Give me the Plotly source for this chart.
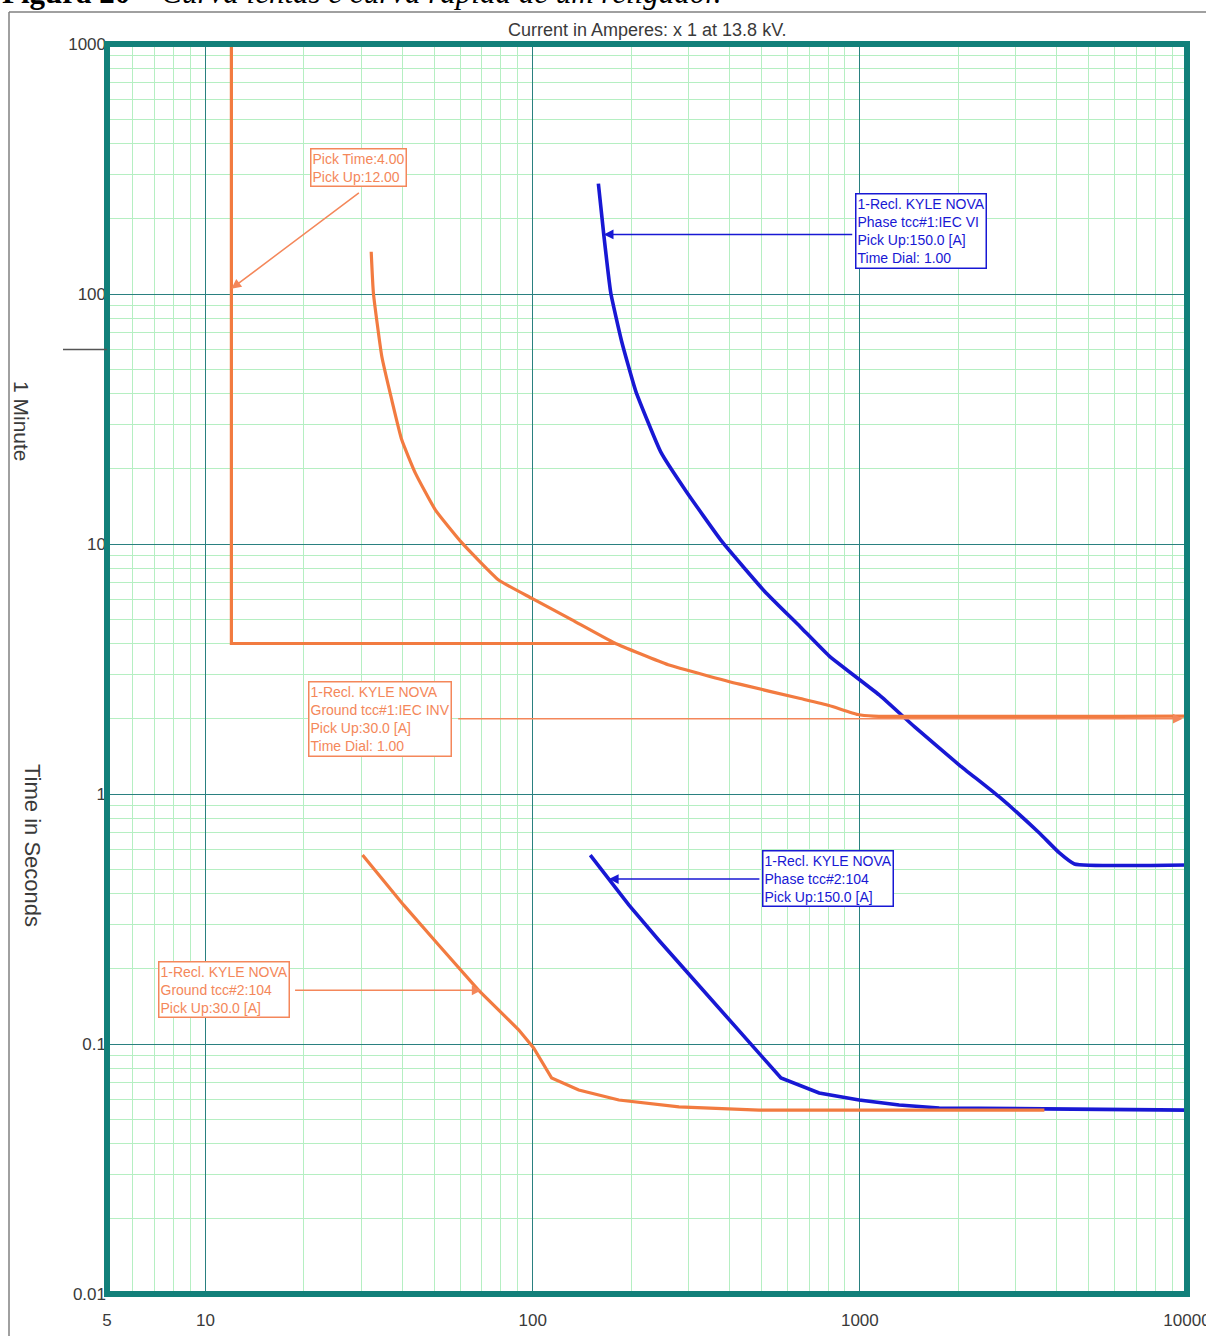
import math
import plotly.graph_objects as go

# ---- Ground tcc#1 : IEC inverse, pick up 30 A, dial 1.00 (slow ground) ----
ground_slow_I = [32.1, 32.6, 34.6, 37.1, 39.8, 43.8, 50.4, 60.8, 78.7, 99.5,
                 131.9, 177.9, 259.5, 429, 658, 805, 985, 1100, 10000]
ground_slow_t = [147.6, 100.9, 56.1, 37.7, 26.1, 19.2, 13.7, 10.1, 7.18, 6.06,
                 4.97, 4.02, 3.29, 2.75, 2.41, 2.26, 2.08, 2.05, 2.05]

# ---- Ground definite-time element: pick up 12 A, pick time 4.00 s ----
ground_dt_I = [12, 12, 178]
ground_dt_t = [1000, 4.0, 4.0]

# ---- Phase tcc#1 : IEC very inverse, pick up 150 A, dial 1.00 (slow phase) ----
phase_slow_I = [158.8, 164.9, 173.3, 187.1, 206.7, 246.5, 294, 378.7, 512, 658,
                805, 1146, 1474, 2014, 2669, 3538, 4074, 4529, 10000]
phase_slow_t = [276.5, 173.3, 100.9, 64.6, 40.8, 23.3, 16.3, 10.24, 6.46, 4.66,
                3.57, 2.49, 1.85, 1.306, 0.973, 0.698, 0.581, 0.525, 0.52]

# ---- Phase tcc#2 : curve 104, pick up 150 A (fast phase) ----
phase_fast_I = [150, 170, 196.7, 243, 322, 427, 574, 751, 995, 1319, 1748, 10000]
phase_fast_t = [0.57, 0.46, 0.36, 0.26, 0.172, 0.114, 0.0731, 0.0637, 0.0597,
                0.057, 0.0555, 0.0544]

# ---- Ground tcc#2 : curve 104, pick up 30 A (fast ground) ----
ground_fast_I = [30.2, 40.3, 51.6, 68.4, 90.6, 100.7, 114.3, 138.3, 183.4, 280,
                 492, 3665]
ground_fast_t = [0.57, 0.36, 0.249, 0.164, 0.114, 0.0964, 0.0731, 0.0655, 0.0597,
                 0.056, 0.0544, 0.0544]

# axis ticks
x_ticks = [5, 10, 100, 1000, 10000]
x_tick_text = ["5", "10", "100", "1000", "10000"]
y_ticks = [0.01, 0.1, 1, 10, 100, 1000]
y_tick_text = ["0.01", "0.1", "1", "10", "100", "1000"]

ORANGE = "#F27B40"
ORANGE_LIGHT = "#F4875A"
BLUE = "#1818D4"
TEAL = "#12807A"
MAJOR_GRID = "#2A8080"
MINOR_GRID = "#B5EFC2"
SANS = "Liberation Sans, Arial, sans-serif"
TEXT_GREY = "#3a3a3a"

x_minor = [m * 10 ** e for e in range(0, 4) for m in range(2, 10) if 5 < m * 10 ** e < 10000]
y_minor = [m * 10.0 ** e for e in range(-2, 3) for m in range(2, 10)]

fig = go.Figure()

line_w = 3.2
fig.add_trace(go.Scatter(x=phase_slow_I, y=phase_slow_t, mode="lines",
                         line=dict(color=BLUE, width=3.6, shape="spline", smoothing=0.4),
                         hoverinfo="skip"))
fig.add_trace(go.Scatter(x=phase_fast_I, y=phase_fast_t, mode="lines",
                         line=dict(color=BLUE, width=3.6), hoverinfo="skip"))
fig.add_trace(go.Scatter(x=ground_dt_I, y=ground_dt_t, mode="lines",
                         line=dict(color=ORANGE, width=line_w), hoverinfo="skip"))
fig.add_trace(go.Scatter(x=ground_slow_I, y=ground_slow_t, mode="lines",
                         line=dict(color=ORANGE, width=line_w, shape="spline", smoothing=0.4),
                         hoverinfo="skip"))
fig.add_trace(go.Scatter(x=ground_fast_I, y=ground_fast_t, mode="lines",
                         line=dict(color=ORANGE, width=line_w), hoverinfo="skip"))

L, R, T, B = 107, 19, 44, 42
W, H = 1206, 1336
PW, PH = W - L - R, H - T - B


def px_x(p):
    return (p - L) / PW


def px_y(p):
    return (H - B - p) / PH


shapes = [
    # heavy frame around the plotting area
    dict(type="rect", xref="paper", yref="paper", x0=0, x1=1, y0=0, y1=1,
         line=dict(color=TEAL, width=6), layer="above"),
    # "1 Minute" marker on the time axis
    dict(type="line", xref="paper", yref="y", x0=px_x(63), x1=0, y0=60, y1=60,
         line=dict(color="#555555", width=1.5)),
    # page border lines
    dict(type="line", xref="paper", yref="paper", x0=px_x(9), x1=px_x(9),
         y0=px_y(12), y1=px_y(1340), line=dict(color="#808080", width=1.5)),
    dict(type="line", xref="paper", yref="paper", x0=px_x(9), x1=px_x(1210),
         y0=px_y(12), y1=px_y(12), line=dict(color="#808080", width=1.5)),
]

annotations = []


def box(text, cx, cy, color):
    annotations.append(dict(
        text=text, xref="paper", yref="paper", x=px_x(cx), y=px_y(cy),
        xanchor="left", yanchor="middle", align="left", showarrow=False,
        font=dict(family=SANS, size=14, color=color),
        bgcolor="white", bordercolor=color, borderwidth=1.5, borderpad=1))


def arrow(tip_I, tip_t, ax, ay, color):
    annotations.append(dict(
        text="", x=math.log10(tip_I), y=math.log10(tip_t), xref="x", yref="y",
        ax=ax, ay=ay, showarrow=True, arrowhead=2, arrowsize=1.3,
        arrowwidth=1.5, arrowcolor=color))


arrow(12, 105, 129, -97, ORANGE_LIGHT)
arrow(164.9, 173, 250, 0, BLUE)
arrow(9700, 2.0, -726, 0, ORANGE_LIGHT)
arrow(171, 0.457, 152, 0, BLUE)
arrow(69.8, 0.164, -188, 0, ORANGE_LIGHT)

box("Pick Time:4.00<br>Pick Up:12.00", 310, 168, ORANGE_LIGHT)
box("1-Recl. KYLE NOVA<br>Phase tcc#1:IEC VI<br>Pick Up:150.0 [A]<br>Time Dial: 1.00",
    855, 231, BLUE)
box("1-Recl. KYLE NOVA<br>Ground tcc#1:IEC INV<br>Pick Up:30.0 [A]<br>Time Dial: 1.00",
    308, 719, ORANGE_LIGHT)
box("1-Recl. KYLE NOVA<br>Phase tcc#2:104<br>Pick Up:150.0 [A]", 762, 879, BLUE)
box("1-Recl. KYLE NOVA<br>Ground tcc#2:104<br>Pick Up:30.0 [A]", 158, 989, ORANGE_LIGHT)

# axis headings
annotations.append(dict(
    text="Current in Amperes: x 1 at 13.8 kV.", xref="paper", yref="paper",
    x=px_x(647), y=px_y(30), xanchor="center", yanchor="middle", showarrow=False,
    font=dict(family=SANS, size=18, color=TEXT_GREY)))
annotations.append(dict(
    text="Time in Seconds", xref="paper", yref="paper", x=px_x(33), y=px_y(845),
    xanchor="center", yanchor="middle", showarrow=False, textangle=90,
    font=dict(family=SANS, size=22, color=TEXT_GREY)))
annotations.append(dict(
    text="1 Minute", xref="paper", yref="paper", x=px_x(22), y=px_y(421),
    xanchor="center", yanchor="middle", showarrow=False, textangle=90,
    font=dict(family=SANS, size=21, color=TEXT_GREY)))
# figure caption
annotations.append(dict(
    text="<b>Figura 20 –</b> <i>Curva lentas e curva rápida de um religador.</i>",
    xref="paper", yref="paper", x=px_x(0), y=px_y(12), xanchor="left",
    yanchor="bottom", showarrow=False,
    font=dict(family="Liberation Serif, Times New Roman, serif", size=31, color="black")))

fig.update_layout(
    width=W, height=H,
    margin=dict(l=L, r=R, t=T, b=B, pad=0, autoexpand=False),
    paper_bgcolor="white", plot_bgcolor="white",
    showlegend=False,
    shapes=shapes, annotations=annotations,
    xaxis=dict(type="log", range=[math.log10(5), 4], tickvals=x_ticks,
               ticktext=x_tick_text, showgrid=True, gridcolor=MAJOR_GRID,
               gridwidth=1.2, zeroline=False, showline=False, ticks="",
               automargin=False,
               ticklabelstandoff=14, ticklabeloverflow="allow",
               tickfont=dict(family=SANS, size=17, color=TEXT_GREY),
               minor=dict(tickvals=x_minor, showgrid=True, gridcolor=MINOR_GRID,
                          gridwidth=1, ticks="")),
    yaxis=dict(type="log", range=[-2, 3], tickvals=y_ticks, ticktext=y_tick_text,
               showgrid=True, gridcolor=MAJOR_GRID, gridwidth=1.2, zeroline=False,
               showline=False, ticks="", ticklabeloverflow="allow", automargin=False,
               tickfont=dict(family=SANS, size=17, color=TEXT_GREY),
               minor=dict(tickvals=y_minor, showgrid=True, gridcolor=MINOR_GRID,
                          gridwidth=1, ticks="")),
)

fig.write_html("out.html")
